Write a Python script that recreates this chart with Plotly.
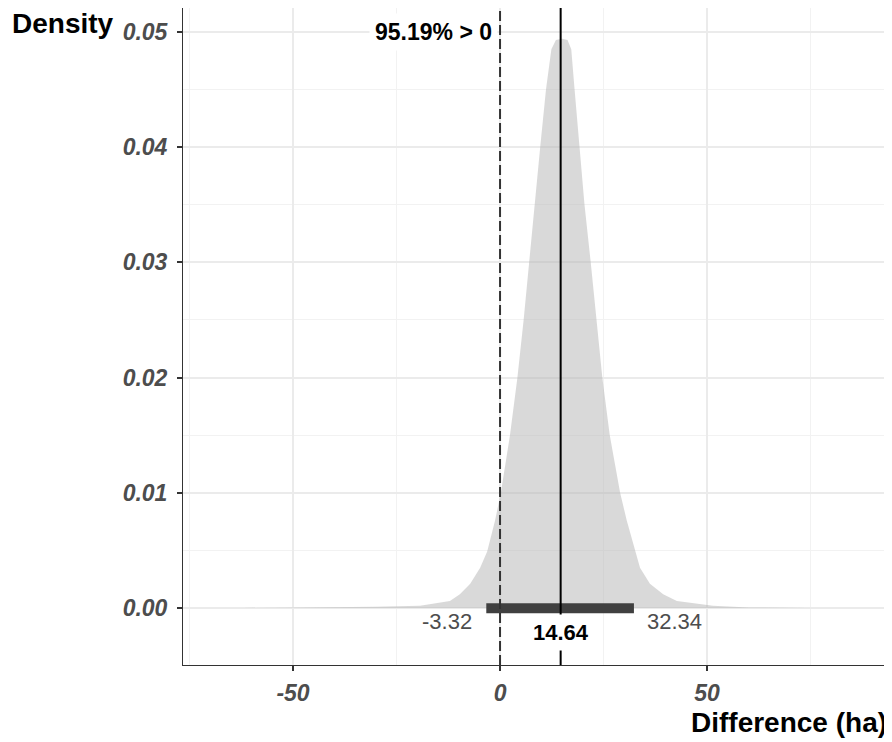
import plotly.graph_objects as go

# ---- data ----
diff_x = [-62, -45, -30, -19.3, -12.1, -9.7, -7.2, -4.8, -3.1, -1.2, 0.2, 2.4, 4.2,
          5.7, 7.0, 8.4, 9.7, 11.1, 12.4, 13.5, 15.0, 16.3, 17.2, 18.0, 19.2, 20.4,
          21.9, 23.3, 24.7, 26.5, 29.0, 30.6, 32.6, 33.8, 36.2, 39.4, 42.7,
          51.4, 60, 74]
density = [0.0, 0.00003, 0.0001, 0.0002, 0.0006, 0.0012, 0.0021, 0.0035, 0.0049, 0.0076,
           0.0100, 0.0150, 0.0200, 0.0250, 0.0300, 0.0350, 0.0400, 0.0450, 0.0485, 0.0493,
           0.0494, 0.0493, 0.0485, 0.0450, 0.0400, 0.0350, 0.0300, 0.0250, 0.0200, 0.0150,
           0.0100, 0.0076, 0.0049, 0.0035, 0.0021, 0.0012, 0.0006, 0.0002, 0.00005, 0.0]
ci_low = -3.32
ci_high = 32.34
median_val = 14.64
ref_val = 0
prob_label = "95.19% > 0"
x_ticks = [-50, 0, 50]
y_ticks = [0.00, 0.01, 0.02, 0.03, 0.04, 0.05]

fig = go.Figure()
fig.add_trace(go.Scatter(
    x=diff_x, y=density, mode="lines", fill="tozeroy",
    fillcolor="rgba(179,179,179,0.5)", line=dict(width=0, color="rgba(179,179,179,0.5)"),
    hoverinfo="skip", showlegend=False))

# interval bar
fig.add_shape(type="rect", xref="x", yref="y", x0=ci_low, x1=ci_high,
              y0=-0.00045, y1=0.00042, fillcolor="#404040", line=dict(width=0))
# reference (dashed) and median (solid) lines
fig.add_shape(type="line", xref="x", yref="paper", x0=ref_val, x1=ref_val, y0=0, y1=1,
              line=dict(color="#333333", width=2, dash="10px,4px"))
fig.add_shape(type="line", xref="x", yref="paper", x0=median_val, x1=median_val, y0=0, y1=1,
              line=dict(color="black", width=2))

fig.add_annotation(x=ref_val, y=0.05, xref="x", yref="y", text=prob_label, showarrow=False,
                   xanchor="right", yanchor="middle", xshift=-2, bgcolor="white",
                   borderpad=5, font=dict(family="Arial", size=23, color="black", weight="bold"))
fig.add_annotation(x=median_val, y=-0.0021, xref="x", yref="y", text=f"{median_val:.2f}",
                   showarrow=False, xanchor="center", yanchor="middle", bgcolor="white",
                   borderpad=5, font=dict(family="Arial", size=22, color="black", weight="bold"))
fig.add_annotation(x=ci_low, y=-0.00115, xref="x", yref="y", text=f"{ci_low:.2f}",
                   showarrow=False, xanchor="right", yanchor="middle", xshift=-12,
                   font=dict(family="Arial", size=22, color="#4d4d4d"))
fig.add_annotation(x=ci_high, y=-0.00115, xref="x", yref="y", text=f"{ci_high:.2f}",
                   showarrow=False, xanchor="left", yanchor="middle", xshift=11,
                   font=dict(family="Arial", size=22, color="#4d4d4d"))

title_font = dict(family="Arial", size=28, color="black", weight="bold")
fig.add_annotation(x=(10 - 183) / 705, y=(665 - 23) / 657, xref="paper", yref="paper",
                   text="Density", showarrow=False, xanchor="left", yanchor="middle",
                   font=title_font)
fig.add_annotation(x=(889 - 183) / 705, y=(665 - 722) / 657, xref="paper", yref="paper",
                   text="Difference (ha)", showarrow=False, xanchor="right", yanchor="middle",
                   font=title_font)

tick_font = dict(family="Arial", size=23, color="#4d4d4d", weight="bold", style="italic")
fig.update_xaxes(range=[-76.57, 93.7], tickvals=x_ticks, ticktext=[str(v) for v in x_ticks],
                 showgrid=True, gridcolor="#ebebeb", gridwidth=1.5,
                 minor=dict(dtick=25, tick0=-75, showgrid=True, gridcolor="#f2f2f2", gridwidth=1),
                 showline=True, linecolor="#333333", linewidth=1, mirror=True,
                 ticks="outside", ticklen=5, tickcolor="#333333", tickwidth=1.5,
                 tickfont=tick_font, ticklabelstandoff=2, zeroline=False)
fig.update_yaxes(range=[-0.00495, 0.05208], tickvals=y_ticks,
                 ticktext=[f"{v:.2f}" for v in y_ticks],
                 showgrid=True, gridcolor="#ebebeb", gridwidth=1.5,
                 minor=dict(dtick=0.005, tick0=-0.005, showgrid=True, gridcolor="#f2f2f2", gridwidth=1),
                 showline=True, linecolor="#333333", linewidth=1, mirror=True,
                 ticks="outside", ticklen=5, tickcolor="#333333", tickwidth=1.5,
                 tickfont=tick_font, ticklabelstandoff=5, zeroline=False)

# page body has an 8px margin, so the figure is 8px smaller and shifted
fig.update_layout(width=884, height=734, margin=dict(l=175, r=4, t=0, b=77),
                  plot_bgcolor="white", paper_bgcolor="white", showlegend=False)
fig.write_html("out.html")
